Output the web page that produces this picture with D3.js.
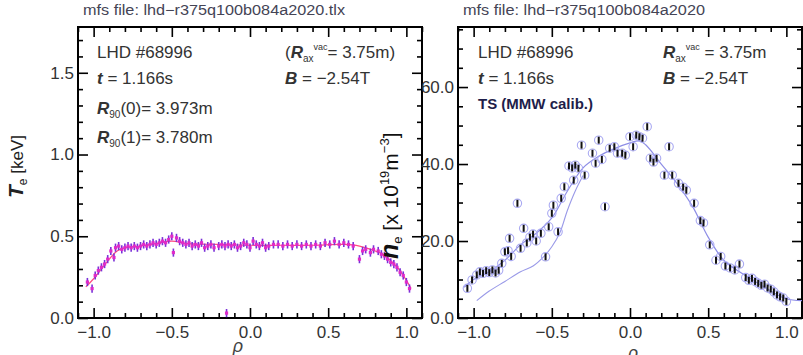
<!DOCTYPE html>
<html><head><meta charset="utf-8">
<script src="https://cdn.jsdelivr.net/npm/d3@7"></script>
<style>
body{margin:0;background:#fff}
text{font-family:"Liberation Sans",Arial,sans-serif}
</style>
</head><body>
<svg id="c" width="803" height="355"></svg>
<script>
// ---------- data ----------
const xTicks = [-1.0, -0.5, 0.0, 0.5, 1.0];
const teTicks = [0.0, 0.5, 1.0, 1.5];
const neTicks = [0.0, 20.0, 40.0, 60.0];

const teRho = [-1.04,-1.01,-0.99,-0.97,-0.95,-0.93,-0.91,-0.89,-0.87,-0.86,-0.84,-0.82,-0.80,-0.78,-0.76,-0.74,-0.72,-0.70,-0.68,-0.66,-0.64,-0.62,-0.60,-0.58,-0.56,-0.54,-0.52,-0.50,-0.49,-0.47,-0.45,-0.43,-0.41,-0.39,-0.37,-0.35,-0.33,-0.31,-0.29,-0.27,-0.25,-0.23,-0.20,-0.18,-0.16,-0.15,-0.14,-0.12,-0.10,-0.08,-0.06,-0.04,-0.02,0.00,0.02,0.04,0.06,0.08,0.10,0.12,0.15,0.18,0.21,0.24,0.27,0.30,0.33,0.36,0.39,0.42,0.45,0.48,0.51,0.54,0.57,0.60,0.63,0.66,0.70,0.72,0.74,0.77,0.79,0.82,0.84,0.86,0.88,0.90,0.92,0.94,0.96,0.98,1.00,1.02];
const teVal = [0.22,0.18,0.26,0.29,0.31,0.33,0.36,0.41,0.37,0.43,0.44,0.42,0.43,0.44,0.43,0.44,0.43,0.44,0.45,0.44,0.45,0.46,0.45,0.46,0.47,0.46,0.48,0.50,0.40,0.49,0.47,0.46,0.45,0.46,0.44,0.45,0.44,0.46,0.43,0.44,0.45,0.43,0.44,0.45,0.44,0.03,0.45,0.44,0.45,0.43,0.44,0.46,0.45,0.43,0.47,0.45,0.44,0.46,0.43,0.44,0.45,0.45,0.44,0.45,0.44,0.45,0.44,0.45,0.44,0.45,0.44,0.46,0.45,0.47,0.45,0.46,0.45,0.44,0.36,0.41,0.42,0.40,0.42,0.41,0.39,0.38,0.36,0.34,0.33,0.31,0.28,0.26,0.22,0.18];
const teErr = 0.025;

const teFitRho = [-1.05,-1.0,-0.95,-0.9,-0.85,-0.8,-0.7,-0.6,-0.5,-0.4,-0.2,0.0,0.2,0.4,0.6,0.7,0.8,0.85,0.9,0.95,1.0,1.03];
const teFitVal = [0.19,0.24,0.30,0.36,0.41,0.43,0.44,0.455,0.47,0.455,0.45,0.445,0.445,0.445,0.45,0.44,0.41,0.39,0.35,0.30,0.23,0.18];

const neRho = [-1.04,-1.01,-0.98,-0.96,-0.94,-0.92,-0.90,-0.88,-0.86,-0.84,-0.82,-0.80,-0.78,-0.77,-0.76,-0.72,-0.70,-0.68,-0.66,-0.64,-0.62,-0.60,-0.57,-0.54,-0.52,-0.50,-0.49,-0.46,-0.44,-0.42,-0.39,-0.37,-0.36,-0.35,-0.33,-0.31,-0.29,-0.24,-0.22,-0.20,-0.18,-0.16,-0.13,-0.10,-0.08,-0.05,-0.03,0.00,0.02,0.04,0.06,0.08,0.11,0.13,0.15,0.17,0.22,0.25,0.27,0.31,0.34,0.36,0.41,0.45,0.47,0.51,0.55,0.58,0.61,0.64,0.67,0.70,0.74,0.76,0.78,0.80,0.82,0.84,0.86,0.88,0.90,0.92,0.94,0.96,0.98,1.00];
const neVal = [7.7,9.9,11.2,12.0,11.6,12.3,11.8,12.5,11.7,12.4,14.2,17.2,17.5,20.7,16.0,29.8,18.1,23.3,19.5,21.0,21.8,20.0,22.0,15.9,23.7,27.2,29.3,22.4,31.1,34.1,39.5,39.0,35.8,39.7,38.9,44.9,37.1,42.8,40.2,46.2,41.2,28.9,44.1,44.5,42.8,42.8,42.3,47.1,44.5,47.5,47.1,46.7,49.7,41.5,40.5,41.5,37.1,44.5,37.1,35.0,34.0,33.2,29.8,25.3,24.7,19.0,15.0,16.0,13.5,13.0,12.5,14.0,10.5,9.8,10.3,9.5,9.0,8.5,8.8,7.8,7.5,6.8,6.0,5.5,5.2,4.3];
const neErr = 0.9;

const neFitUpRho = [-1.06,-1.0,-0.9,-0.8,-0.7,-0.6,-0.5,-0.4,-0.3,-0.2,-0.1,0.0,0.06,0.1,0.2,0.3,0.4,0.5,0.6,0.7,0.8,0.9,1.0,1.1];
const neFitUpVal = [8,10,12,15,19,22,26,33,39,42,44,45.5,46,45,40,35,29,21,15,12,9.5,7,5,4.5];
const neFitLoRho = [-0.98,-0.9,-0.8,-0.7,-0.62,-0.55,-0.5,-0.45,-0.4,-0.35,-0.3];
const neFitLoVal = [4.5,7,9.5,12,13.5,16,18.5,22,28,33,37];

// ---------- layout ----------
const svg = d3.select("#c");
svg.append("rect").attr("width",803).attr("height",355).attr("fill","#fff");
const TOP = 27, BOT = 318, W = 344;
const txtCol = "#333";

function range(a,b,s){const r=[];for(let v=a;v<=b+1e-9;v+=s)r.push(+v.toFixed(4));return r;}

function panel(x0, yDom, yMajor, yMinorStep, yFmt){
  const x = d3.scaleLinear().domain([-1.1,1.1]).range([x0, x0+W]);
  const y = d3.scaleLinear().domain(yDom).range([BOT, TOP]);
  const g = svg.append("g");
  const xMinor = range(-1.1,1.1,0.1).filter(v=>!xTicks.some(t=>Math.abs(t-v)<1e-6));
  const yMinor = range(yDom[0], yDom[1], yMinorStep).filter(v=>!yMajor.some(t=>Math.abs(t-v)<1e-6));
  const style = sel => { sel.select(".domain").remove(); sel.selectAll(".tick line").attr("stroke","#000").attr("stroke-width",1.6); sel.selectAll("text").attr("fill",txtCol).style("font-size","17px").style("font-family","'Liberation Sans',Arial,sans-serif"); };
  g.append("g").attr("transform",`translate(0,${BOT})`).call(d3.axisBottom(x).tickValues(xTicks).tickSize(-10).tickPadding(8).tickFormat(d3.format(".1f"))).call(style);
  g.append("g").attr("transform",`translate(0,${BOT})`).call(d3.axisBottom(x).tickValues(xMinor).tickSize(-5).tickFormat("")).call(style);
  g.append("g").attr("transform",`translate(0,${TOP})`).call(d3.axisTop(x).tickValues(xTicks).tickSize(-10).tickFormat("")).call(style);
  g.append("g").attr("transform",`translate(0,${TOP})`).call(d3.axisTop(x).tickValues(xMinor).tickSize(-5).tickFormat("")).call(style);
  g.append("g").attr("transform",`translate(${x0},0)`).call(d3.axisLeft(y).tickValues(yMajor).tickSize(-10).tickPadding(4).tickFormat(yFmt)).call(style);
  g.append("g").attr("transform",`translate(${x0},0)`).call(d3.axisLeft(y).tickValues(yMinor).tickSize(-5).tickFormat("")).call(style);
  g.append("g").attr("transform",`translate(${x0+W},0)`).call(d3.axisRight(y).tickValues(yMajor).tickSize(-10).tickFormat("")).call(style);
  g.append("g").attr("transform",`translate(${x0+W},0)`).call(d3.axisRight(y).tickValues(yMinor).tickSize(-5).tickFormat("")).call(style);
  g.append("rect").attr("x",x0).attr("y",TOP).attr("width",W).attr("height",BOT-TOP).attr("fill","none").attr("stroke","#000").attr("stroke-width",2);
  return {x,y,g};
}

// ---------- left panel ----------
const L = panel(78, [0,1.78], teTicks, 0.1, d3.format(".1f"));
const teData = teRho.map((r,i)=>({r, v:teVal[i]}));
const teFit = teFitRho.map((r,i)=>({r, v:teFitVal[i]}));
L.g.append("path").datum(teFit).attr("fill","none").attr("stroke","#ff4a80").attr("stroke-width",1.2)
  .attr("d", d3.line().x(d=>L.x(d.r)).y(d=>L.y(d.v)).curve(d3.curveCatmullRom));
L.g.selectAll(".teErr").data(teData).join("line")
  .attr("x1",d=>L.x(d.r)).attr("x2",d=>L.x(d.r)).attr("y1",d=>L.y(d.v-teErr)).attr("y2",d=>L.y(d.v+teErr))
  .attr("stroke","#7a30d8").attr("stroke-width",1.6);
L.g.selectAll(".tePt").data(teData).join("rect")
  .attr("x",d=>L.x(d.r)-1.6).attr("y",d=>L.y(d.v)-1.6).attr("width",3.2).attr("height",3.2).attr("fill","#e02ac8");

// ---------- right panel ----------
const R = panel(458, [0,75.6], neTicks, 5, d3.format(".1f"));
const neData = neRho.map((r,i)=>({r, v:neVal[i]}));
const line = d3.line().x(d=>R.x(d.r)).y(d=>R.y(d.v)).curve(d3.curveCatmullRom);
R.g.append("path").datum(neFitUpRho.map((r,i)=>({r,v:neFitUpVal[i]}))).attr("fill","none").attr("stroke","#8e8ee6").attr("stroke-width",1.2).attr("d",line);
R.g.append("path").datum(neFitLoRho.map((r,i)=>({r,v:neFitLoVal[i]}))).attr("fill","none").attr("stroke","#9a9ae8").attr("stroke-width",1.1).attr("d",line);
R.g.selectAll(".neC").data(neData).join("circle")
  .attr("cx",d=>R.x(d.r)).attr("cy",d=>R.y(d.v)).attr("r",4.2).attr("fill","none").attr("stroke","#a9a9f2").attr("stroke-width",1.1);
R.g.selectAll(".neE").data(neData).join("line")
  .attr("x1",d=>R.x(d.r)).attr("x2",d=>R.x(d.r)).attr("y1",d=>R.y(d.v-neErr)).attr("y2",d=>R.y(d.v+neErr))
  .attr("stroke","#111").attr("stroke-width",2);

// ---------- texts ----------
function t(x,y,size,parts,opts={}){
  const el = svg.append("text").attr("x",x).attr("y",y).attr("fill",opts.fill||txtCol).style("font-size",size+"px");
  if(opts.anchor) el.attr("text-anchor",opts.anchor);
  if(opts.transform) el.attr("transform",opts.transform).attr("x",0).attr("y",0);
  parts.forEach(p=>{
    const s = el.append("tspan").text(p.t);
    if(p.b) s.style("font-weight","bold");
    if(p.i) s.style("font-style","italic");
    if(p.s) s.style("font-size",p.s+"px");
    if(p.dy) s.attr("dy",p.dy);
    if(p.fill) s.attr("fill",p.fill);
  });
  return el;
}
t(83,15,14,[{t:"mfs file: lhd\u2212r375q100b084a2020.tlx"}],{fill:"#445"}).attr("textLength",262).attr("lengthAdjust","spacingAndGlyphs");
t(463,15,14,[{t:"mfs file: lhd\u2212r375q100b084a2020"}],{fill:"#445"}).attr("textLength",242).attr("lengthAdjust","spacingAndGlyphs");

// left annotations
t(97,58,17,[{t:"LHD #68996"}]);
t(97,84,17,[{t:"t",b:1,i:1},{t:" =  1.166s"}]);
t(97,114,17,[{t:"R",b:1,i:1},{t:"90",s:10,dy:4},{t:"(0)= 3.973m",dy:-4}]);
t(97,143,17,[{t:"R",b:1,i:1},{t:"90",s:10,dy:4},{t:"(1)= 3.780m",dy:-4}]);
t(285,58,17,[{t:"("},{t:"R",b:1,i:1},{t:"ax",s:10,dy:4},{t:"vac",s:9,dy:-12},{t:"= 3.75m)",dy:8}]);
t(285,84,17,[{t:"B",b:1,i:1},{t:" = \u22122.54T"}]);

// right annotations
t(478,58,17,[{t:"LHD #68996"}]);
t(478,84,17,[{t:"t",b:1,i:1},{t:" =  1.166s"}]);
t(478,109,15,[{t:"TS (MMW calib.)",b:1}],{fill:"#1e1e4a"});
t(663,58,17,[{t:"R",b:1,i:1},{t:"ax",s:10,dy:4},{t:"vac",s:9,dy:-12},{t:" = 3.75m",dy:8}]);
t(663,84,17,[{t:"B",b:1,i:1},{t:" = \u22122.54T"}]);

// axis titles
t(0,0,17,[{t:"T",b:1,i:1,s:21},{t:"e",s:12,dy:4},{t:" [keV]",dy:-4}],{transform:"translate(23,198) rotate(-90)",fill:"#222"});
t(0,0,21,[{t:"n",b:1,i:1,s:25},{t:"e",s:13,dy:4},{t:" [x 10",dy:-4},{t:"19",s:13,dy:-9},{t:"m",dy:9},{t:"\u22123",s:13,dy:-9},{t:"]",dy:9}],{transform:"translate(398,259) rotate(-90)",fill:"#111"});
t(238,352,18,[{t:"\u03c1",i:1}],{anchor:"middle",fill:"#444"});
t(633,359,18,[{t:"\u03c1",i:1}],{anchor:"middle",fill:"#444"});
</script>
</body></html>
